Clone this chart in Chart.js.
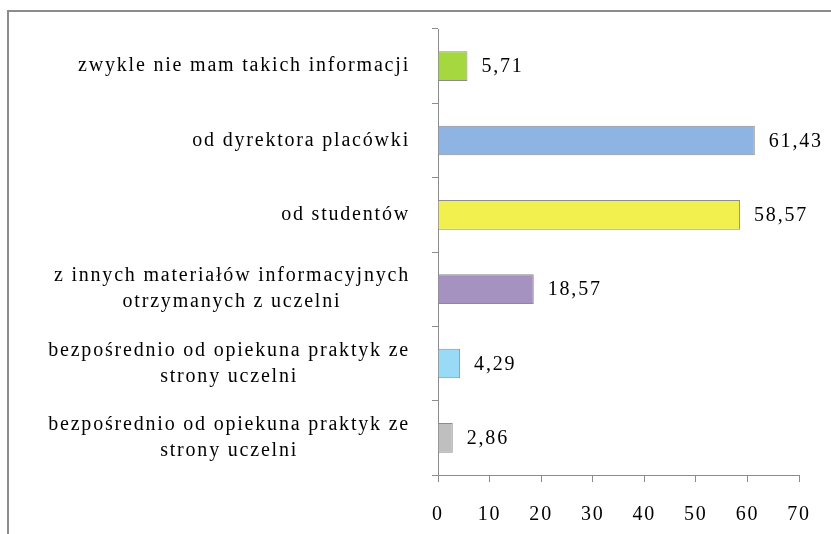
<!DOCTYPE html>
<html>
<head>
<meta charset="utf-8">
<script src="https://cdn.jsdelivr.net/npm/chart.js@4.4.1/dist/chart.umd.min.js"></script>
<style>
  html, body { margin: 0; padding: 0; background: #fff; }
  #wrap { position: relative; width: 831px; height: 534px; overflow: hidden; }
  #frame {
    position: absolute; left: 7px; top: 10px; width: 900px; height: 600px;
    border-left: 2px solid #8c8c8c; border-top: 2px solid #8c8c8c;
  }
  #chart { position: absolute; left: 0; top: 0; }
</style>
</head>
<body>
<div id="wrap">
  <div id="frame"></div>
  <canvas id="chart" width="831" height="534"></canvas>
</div>
<script>
// Categories (top to bottom)
const categories = [
    ['zwykle nie mam takich informacji'],
    ['od dyrektora placówki'],
    ['od studentów'],
    ['z innych materiałów informacyjnych', 'otrzymanych z uczelni'],
    ['bezpośrednio od opiekuna praktyk ze', 'strony uczelni'],
    ['bezpośrednio od opiekuna praktyk ze', 'strony uczelni']
];
const values = [5.71, 61.43, 58.57, 18.57, 4.29, 2.86];
const barColors = ['#a5d73f', '#8eb4e3', '#f2f04f', '#a692c0', '#99dbf7', '#bfbfbf'];
const xTicks = [0, 10, 20, 30, 40, 50, 60, 70];

const FAMILY = '"Liberation Serif", "Times New Roman", serif';
const FONT = '20px ' + FAMILY;
const SPACING = '1.8px';

// Category labels: right-aligned block, lines centered inside it
const categoryLabels = {
    id: 'categoryLabels',
    afterDraw: function(chart) {
        const ctx = chart.ctx;
        const yScale = chart.scales.y;
        ctx.save();
        ctx.font = FONT;
        ctx.letterSpacing = SPACING;
        ctx.fillStyle = '#000';
        ctx.textAlign = 'center';
        ctx.textBaseline = 'middle';
        const right = 410;
        const lineH = 26;
        categories.forEach(function(lines, i) {
            const y = yScale.getPixelForValue(i);
            const w = Math.max.apply(null, lines.map(l => ctx.measureText(l).width));
            const cx = right - w / 2;
            const y0 = y - (lines.length - 1) * lineH / 2;
            lines.forEach(function(l, j) {
                ctx.fillText(l, cx, y0 + j * lineH);
            });
        });
        ctx.restore();
    }
};

// Value labels at bar ends
const valueLabels = {
    id: 'valueLabels',
    afterDatasetsDraw: function(chart) {
        const ctx = chart.ctx;
        const meta = chart.getDatasetMeta(0);
        ctx.save();
        ctx.font = FONT;
        ctx.letterSpacing = SPACING;
        ctx.fillStyle = '#000';
        ctx.textAlign = 'left';
        ctx.textBaseline = 'middle';
        meta.data.forEach(function(bar, i) {
            ctx.fillText(values[i].toFixed(2).replace('.', ','), bar.x + 14, bar.y + 1);
        });
        ctx.restore();
    }
};

// Letter spacing for the library's own tick labels
const spacing = {
    id: 'spacing',
    beforeDraw: function(chart) {
        chart.ctx.letterSpacing = SPACING;
    }
};

const ctx = document.getElementById('chart').getContext('2d');
new Chart(ctx, {
    type: 'bar',
    data: {
        labels: categories.map(c => c.join(' ')),
        datasets: [{
            data: values,
            backgroundColor: barColors,
            borderColor: '#8c8c8c',
            borderWidth: 1,
            barPercentage: 0.4,
            categoryPercentage: 1
        }]
    },
    options: {
        indexAxis: 'y',
        responsive: false,
        animation: false,
        layout: {
            padding: { top: 29, right: 32, left: 0, bottom: 0 }
        },
        plugins: {
            legend: { display: false },
            tooltip: { enabled: false }
        },
        scales: {
            x: {
                min: 0,
                max: 70,
                afterBuildTicks: function(scale) {
                    scale.ticks = xTicks.map(v => ({ value: v }));
                },
                afterFit: function(scale) {
                    scale.height = 59;
                },
                border: { color: '#8c8c8c', width: 1 },
                grid: {
                    drawOnChartArea: false,
                    drawTicks: true,
                    tickLength: 7,
                    color: '#8c8c8c'
                },
                ticks: {
                    font: { family: FAMILY, size: 20 },
                    color: '#000',
                    padding: 21,
                    maxRotation: 0
                }
            },
            y: {
                afterFit: function(scale) {
                    scale.width = 438;
                },
                border: { color: '#8c8c8c', width: 1 },
                grid: {
                    offset: true,
                    drawOnChartArea: false,
                    drawTicks: true,
                    tickLength: 6,
                    color: '#8c8c8c'
                },
                ticks: { display: false }
            }
        }
    },
    plugins: [spacing, valueLabels, categoryLabels]
});
</script>
</body>
</html>
